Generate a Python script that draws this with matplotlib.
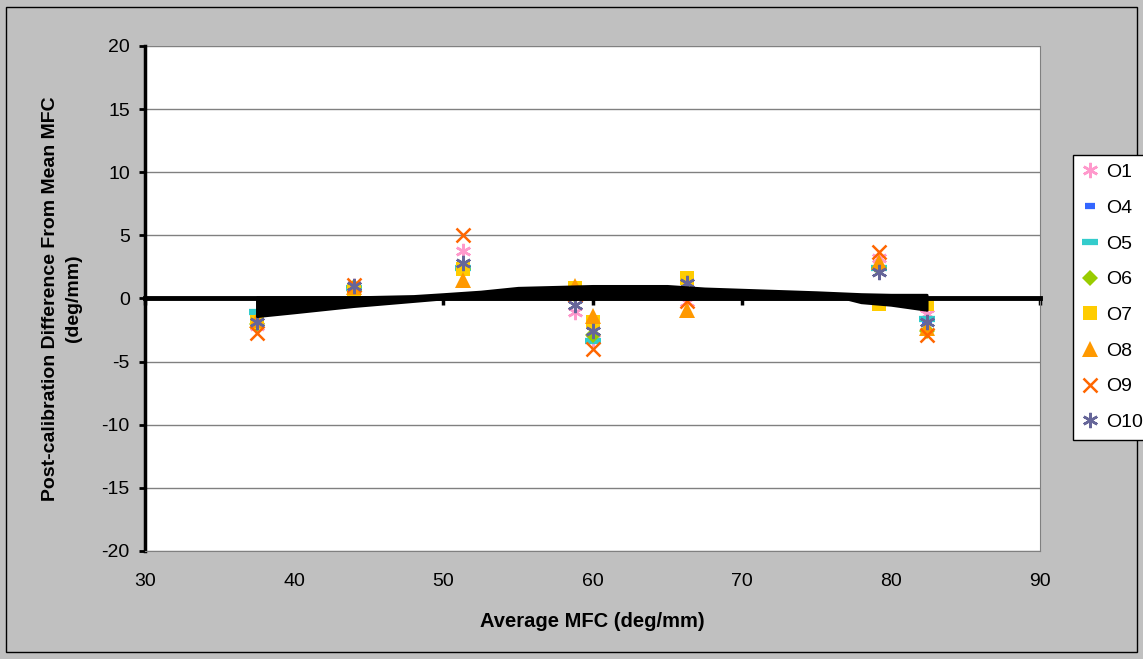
import matplotlib
matplotlib.use("Agg")
import matplotlib.pyplot as plt
from matplotlib.patches import Rectangle

plt.rcParams['font.family'] = ['Liberation Sans', 'DejaVu Sans']
plt.rcParams['axes.unicode_minus'] = False

# Average MFC of each calibration run (deg/mm)
mfc = [37.5, 44.0, 51.3, 58.8, 60.0, 66.3, 79.2, 82.4]

# Post-calibration difference from mean MFC, one list per observer
diffs = {
    'O1':  [-2.2, 1.0, 3.8, -1.1, -3.2, -0.3, 3.2, -1.2],
    'O4':  [-2.0, 0.8, 2.4, 0.9, -2.2, 0.5, 2.3, -1.9],
    'O5':  [-1.1, 0.8, 2.4, 0.3, -3.4, 0.5, 2.4, -1.6],
    'O6':  [-2.0, 0.9, 2.3, 0.3, -2.9, 0.5, 2.4, -2.6],
    'O7':  [-1.9, 0.7, 2.3, 0.8, -1.9, 1.6, -0.4, -0.4],
    'O8':  [-1.7, 0.9, 1.5, 1.0, -1.4, -0.9, 2.9, -2.3],
    'O9':  [-2.7, 1.1, 5.0, 0.3, -4.0, -0.2, 3.7, -2.9],
    'O10': [-1.9, 1.0, 2.8, -0.5, -2.6, 1.2, 2.1, -1.9],
}

# Overlapping black trendlines, kept as an outline of their spread
trend_x = [37.5, 40, 44, 48, 50, 52.5, 55, 60, 65, 67.5, 70, 75, 77, 78, 80, 82.4]
trend_hi = [0.1, 0.1, 0.1, 0.2, 0.35, 0.55, 0.85, 1.0, 1.0, 0.8, 0.7, 0.5, 0.4, 0.35, 0.3, 0.3]
trend_lo = [-1.4, -1.1, -0.6, -0.2, 0.0, 0.0, 0.0, 0.0, 0.0, 0.0, 0.0, 0.0, 0.0, -0.3, -0.5, -0.9]

styles = {
    'O1':  dict(marker=(6, 2, 0), color='#FF99CC', ms=11, mew=1.8),
    'O4':  dict(marker='_', color='#3366FF', ms=7, mew=4.5),
    'O5':  dict(marker='_', color='#33CCCC', ms=12, mew=4.5),
    'O6':  dict(marker='D', color='#99CC00', ms=8, mew=0),
    'O7':  dict(marker='s', color='#FFCC00', ms=10, mew=0),
    'O8':  dict(marker='^', color='#FF9900', ms=11, mew=0),
    'O9':  dict(marker='x', color='#FF6600', ms=10, mew=1.8),
    'O10': dict(marker=(6, 2, 0), color='#666699', ms=11, mew=1.8),
}

fig = plt.figure(figsize=(11.43, 6.59), dpi=100, facecolor='#C0C0C0')
fig.patches.append(Rectangle((0.005, 0.01), 0.99, 0.98, transform=fig.transFigure,
                             fill=False, edgecolor='black', lw=1))
ax = fig.add_axes([0.1269, 0.1639, 0.7830, 0.7663])

for name, vals in diffs.items():
    s = styles[name]
    ax.plot(mfc, vals, linestyle='none', marker=s['marker'], color=s['color'],
            markersize=s['ms'], markeredgewidth=s['mew'], label=name, zorder=3)

ax.fill_between(trend_x, trend_lo, trend_hi, color='black', lw=2,
                edgecolor='black', zorder=4)

ax.set_xlim(30, 90)
ax.set_ylim(-20, 20)
ax.set_xticks(range(30, 91, 10))
ax.set_yticks(range(-20, 21, 5))
ax.grid(axis='y', color='#808080', lw=1)
ax.set_axisbelow(True)

# zero line carries the x tick marks, labels stay at the bottom
ax.spines['top'].set_position(('data', 0))
ax.spines['top'].set_linewidth(3.5)
ax.spines['top'].set_zorder(5)
ax.tick_params(axis='x', top=True, bottom=False, direction='in', length=5, width=2.5,
               labelsize=14, pad=16)
ax.spines['left'].set_linewidth(2.5)
ax.tick_params(axis='y', direction='out', length=4, width=2, labelsize=14, pad=7)
ax.spines['bottom'].set_color('#808080')
ax.spines['right'].set_color('#808080')

ax.set_xlabel('Average MFC (deg/mm)', fontsize=14.5, fontweight='bold', labelpad=16)
ax.set_ylabel('Post-calibration Difference From Mean MFC\n(deg/mm)', fontsize=14,
              fontweight='bold', labelpad=14, linespacing=1.45)

leg = fig.legend(loc='upper left', bbox_to_anchor=(0.9387, 0.765), fontsize=14,
                 frameon=True, fancybox=False, edgecolor='black', framealpha=1,
                 borderpad=0.45, labelspacing=0.93, handlelength=0.9,
                 handletextpad=0.35, borderaxespad=0)
leg.get_frame().set_linewidth(1)

fig.savefig('out.png', dpi=100, facecolor=fig.get_facecolor())
